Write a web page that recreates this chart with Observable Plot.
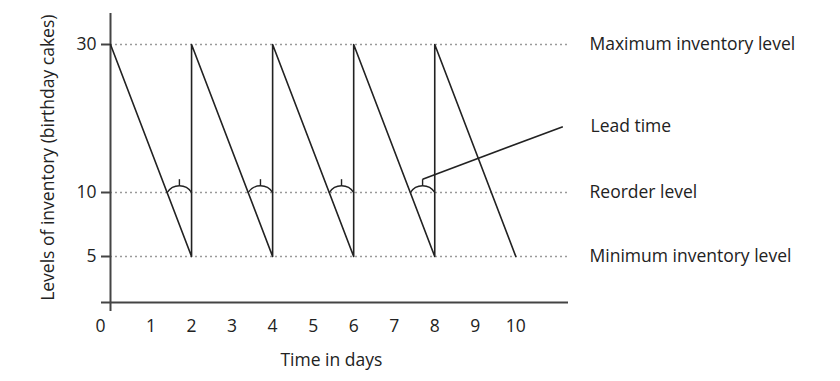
<!DOCTYPE html>
<html>
<head>
<meta charset="utf-8">
<script src="https://cdn.jsdelivr.net/npm/d3@7"></script>
<script src="https://cdn.jsdelivr.net/npm/@observablehq/plot@0.6"></script>
<style>
  html, body { margin: 0; padding: 0; background: #fff; }
  #chart { width: 840px; height: 381px; }
</style>
</head>
<body>
<div id="chart"></div>
<script>
// Sawtooth inventory path (day, stock)
const days  = [0, 2, 2, 4, 4, 6, 6, 8, 8, 10];
const stock = [30, 5, 30, 5, 30, 5, 30, 5, 30, 5];

// Reference levels and their labels
const levelValues = [30, 10, 5];
const levelLabels = ["Maximum inventory level", "Reorder level", "Minimum inventory level"];

// Lead-time arcs: start (crossing of reorder level) and end (delivery day)
const leadStart = [1.4, 3.4, 5.4, 7.4];
const leadEnd   = [2, 4, 6, 8];
const leadArcTop = 10.95;
const leadTickTop = 11.8;

// Lead time pointer
const pointerLabel = "Lead time";
const pointerFrom = {day: 7.7, level: 11.8};
const pointerTo   = {day: 11.16, level: 18.9};

// Tick labels
const xTicks = [1, 2, 3, 4, 5, 6, 7, 8, 9, 10];
const yTicks = [5, 10, 30];

const xTitle = "Time in days";
const yTitle = "Levels of inventory (birthday cakes)";

const path = days.map((d, i) => ({day: d, stock: stock[i]}));
const levels = levelValues.map((v, i) => ({level: v, label: levelLabels[i]}));
const leads = leadStart.map((s, i) => ({s, e: leadEnd[i], m: (s + leadEnd[i]) / 2}));

const ink = "#222";
const font = "Open Sans, sans-serif";
const fs = 17.5;

// schematic (non-uniform) vertical scale: piecewise-linear warp applied by the y scale
const yWarp = d3.scaleLinear().domain([0, 5, 10, 30, 34.2]).range([0, 46, 110, 258, 289]);

const chart = Plot.plot({
  width: 840,
  height: 381,
  marginLeft: 110,
  marginRight: 272,
  marginTop: 13,
  marginBottom: 70,
  style: {fontFamily: font, fontSize: fs + "px", color: ink, background: "#fff"},
  x: {domain: [0, 11.3], axis: null},
  y: {transform: yWarp, domain: [0, 289], range: [302, 13], axis: null},
  marks: [
    // dotted reference levels
    Plot.ruleY(levels, {y: "level", stroke: "#9a9a9a", strokeWidth: 1.5, strokeDasharray: "2,3"}),
    // axes lines
    Plot.ruleX([0], {stroke: "#444", strokeWidth: 2}),
    Plot.ruleY([0], {stroke: "#444", strokeWidth: 2, insetLeft: -9}),
    // y axis ticks and labels
    Plot.axisY(yTicks, {anchor: "left", tickSize: 9, tickPadding: 5, fontSize: fs, stroke: "#444", strokeWidth: 2, label: null, tickFormat: d => d}),
    // x tick labels
    Plot.text(xTicks, {x: d => d, y: 0, dy: 24, fontSize: fs, fill: ink}),
    Plot.text([0], {x: d => d, y: 0, dy: 24, dx: -10, fontSize: fs, fill: ink}),
    // sawtooth
    Plot.line(path, {x: "day", y: "stock", stroke: ink, strokeWidth: 1.6}),
    // lead time arcs
    Plot.arrow(leads, {x1: "s", x2: "e", y1: 10, y2: 10, bend: 58, headLength: 0, stroke: ink, strokeWidth: 1.4}),
    Plot.link(leads, {x1: "m", x2: "m", y1: leadArcTop, y2: leadTickTop, stroke: ink, strokeWidth: 1.4}),
    // pointer
    Plot.link([0], {x1: pointerFrom.day, y1: pointerFrom.level, x2: pointerTo.day, y2: pointerTo.level, stroke: ink, strokeWidth: 1.6}),
    // right-side labels
    Plot.text(levels, {x: 11.3, y: "level", text: "label", dx: 21, textAnchor: "start", fontSize: fs, fill: ink}),
    Plot.text([pointerLabel], {x: 11.3, y: pointerTo.level, text: d => d, dx: 22, textAnchor: "start", fontSize: fs, fill: ink}),
    // titles
    Plot.text([xTitle], {x: 5.45, y: 0, dy: 58, text: d => d, fontSize: fs, fill: ink}),
    Plot.text([yTitle], {x: 0, y: 14.7, dx: -62, rotate: -90, text: d => d, fontSize: fs, fill: ink})
  ]
});
document.getElementById("chart").appendChild(chart);
</script>
</body>
</html>
